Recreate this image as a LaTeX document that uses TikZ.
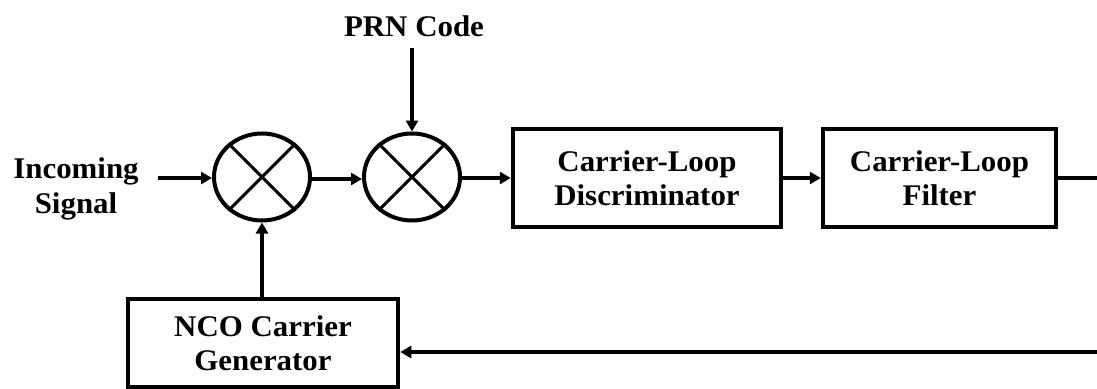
\documentclass[tikz,border=0pt]{standalone}
\usepackage{fontspec}
\setmainfont{Liberation Serif}[FakeStretch=1.03]
\usetikzlibrary{arrows.meta,shapes.geometric}

\tikzset{
  lbl/.style={font=\fontsize{30}{34.5}\selectfont\bfseries, align=center, inner sep=0pt},
  block/.style={draw, line width=4.5pt, minimum height=98pt, lbl},
  mixer/.style={draw, ellipse, line width=4pt, minimum width=96pt, minimum height=87pt, inner sep=0pt},
  cross/.style={line width=3pt},
  sig/.style={line width=4.5pt, -{Triangle[length=11pt,width=12pt]}},
  fb/.style={line width=3.5pt, -{Triangle[length=11pt,width=12pt]}},
  wire/.style={line width=4.5pt}
}

\begin{document}
\begin{tikzpicture}[x=1pt, y=-1pt]
  \useasboundingbox (0,0) rectangle (1097,388);
  \clip (0,0) rectangle (1097,388);

  % mixers
  \node[mixer] (m1) at (262,177) {};
  \node[mixer] (m2) at (412,177) {};
  \foreach \m in {m1,m2} {
    \draw[cross] (\m.45) -- (\m.225);
    \draw[cross] (\m.135) -- (\m.315);
  }

  % processing blocks
  \node[block, minimum width=268pt] (disc) at (647,178) {Carrier-Loop\\Discriminator};
  \node[block, minimum width=233pt] (filt) at (939.5,178) {Carrier-Loop\\Filter};
  \node[block, minimum width=270pt, minimum height=88pt] (nco) at (263,343) {NCO Carrier\\Generator};

  % labels
  \node[lbl] (inc) at (76,189) {Incoming\\Signal};
  \node[lbl] (prn) at (414,26) {PRN Code};

  % free ends
  \coordinate (incend) at (158,178);
  \coordinate (prnend) at (412,48);
  \coordinate (outend) at (1097,178);
  \coordinate (fbend) at (1097,352);

  % connectors
  \draw[sig] (incend) -- (m1.west |- incend);
  \draw[sig] (m1.east |- 0,179) -- (m2.west |- 0,179);
  \draw[sig] (m2.east |- 0,178) -- (disc.west |- 0,178);
  \draw[sig] (disc.east) -- (filt.west);
  \draw[wire] (filt.east) -- (outend);
  \draw[sig] (prnend) -- (m2.north);
  \draw[sig] (nco.north -| m1.south) -- (m1.south);
  \draw[fb] (fbend) -- (nco.east |- fbend);
\end{tikzpicture}
\end{document}
